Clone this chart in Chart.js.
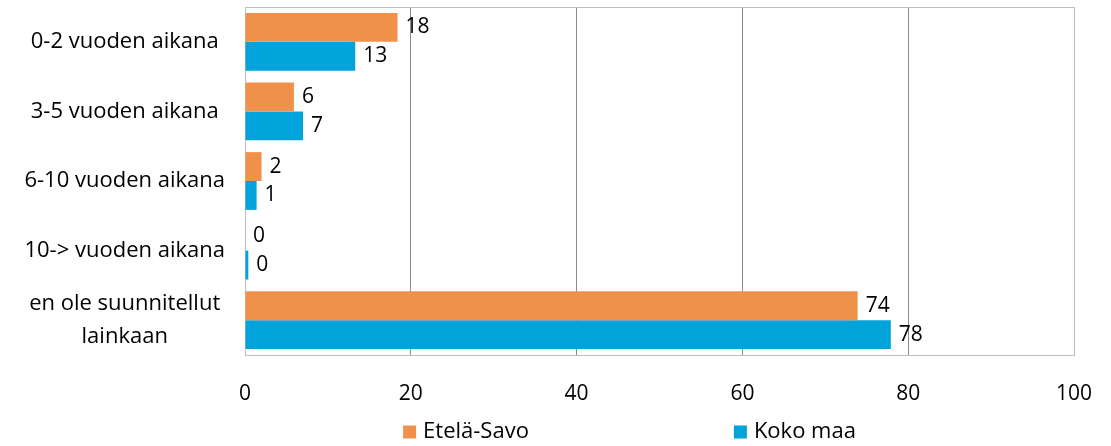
<!DOCTYPE html>
<html>
<head>
<meta charset="utf-8">
<script src="https://cdn.jsdelivr.net/npm/chart.js@4/dist/chart.umd.min.js"></script>
<style>
    body { margin: 0; background: #fff; }
    #wrap { width: 1111px; height: 446px; position: relative; }
</style>
</head>
<body>
<div id="wrap"><canvas id="chart"></canvas></div>
<script>
const categories = [
    '0-2 vuoden aikana',
    '3-5 vuoden aikana',
    '6-10 vuoden aikana',
    '10-> vuoden aikana',
    ['en ole suunnitellut', 'lainkaan']
];
const seriesNames = ['Etelä-Savo', 'Koko maa'];
const etelaSavo = [18.4, 5.9, 2.0, 0, 73.9];
const kokoMaa = [13.3, 7.0, 1.4, 0.4, 77.9];
const xTicks = [0, 20, 40, 60, 80, 100];

const fontFamily = '"Open Sans", "Liberation Sans", sans-serif';
const colors = ['#f0914b', '#00a3da'];

// value labels at the end of each bar
const valueLabels = {
    id: 'valueLabels',
    afterDatasetsDraw(chart) {
        const ctx = chart.ctx;
        ctx.save();
        ctx.font = '21px ' + fontFamily;
        ctx.fillStyle = '#000';
        ctx.textAlign = 'left';
        ctx.textBaseline = 'middle';
        chart.data.datasets.forEach((ds, i) => {
            chart.getDatasetMeta(i).data.forEach((bar, j) => {
                ctx.fillText(Math.round(ds.data[j]), bar.x + 8, bar.y);
            });
        });
        ctx.restore();
    }
};

// plot frame
const frame = {
    id: 'frame',
    beforeDatasetsDraw(chart) {
        const a = chart.chartArea;
        const ctx = chart.ctx;
        ctx.save();
        ctx.strokeStyle = '#bfbfbf';
        ctx.lineWidth = 1;
        ctx.strokeRect(a.left + 0.5, a.top + 0.5, a.right - a.left, a.bottom - a.top);
        ctx.restore();
    }
};

// legend under the plot, spread wide like the original
const wideLegend = {
    id: 'wideLegend',
    afterDraw(chart) {
        const a = chart.chartArea;
        const ctx = chart.ctx;
        const box = 13, gap = 7, spacing = 205;
        ctx.save();
        ctx.font = '22px ' + fontFamily;
        ctx.textBaseline = 'middle';
        ctx.textAlign = 'left';
        const widths = chart.data.datasets.map(ds => box + gap + ctx.measureText(ds.label).width);
        const total = widths[0] + spacing + widths[1];
        let x = (a.left + a.right) / 2 - 30 - total / 2;
        const y = 432;
        chart.data.datasets.forEach((ds, i) => {
            ctx.fillStyle = ds.backgroundColor;
            ctx.fillRect(x, y - box / 2, box, box);
            ctx.fillStyle = '#000';
            ctx.fillText(ds.label, x + box + gap, y);
            x += widths[i] + spacing;
        });
        ctx.restore();
    }
};

new Chart(document.getElementById('chart'), {
    type: 'bar',
    data: {
        labels: categories,
        datasets: [
            { label: seriesNames[0], data: etelaSavo, backgroundColor: colors[0] },
            { label: seriesNames[1], data: kokoMaa, backgroundColor: colors[1] }
        ]
    },
    options: {
        indexAxis: 'y',
        responsive: true,
        maintainAspectRatio: false,
        animation: false,
        layout: { padding: { top: 7, right: 37, bottom: 0, left: 0 } },
        datasets: {
            bar: { categoryPercentage: 0.83, barPercentage: 1.0 }
        },
        scales: {
            x: {
                min: 0,
                max: 100,
                afterBuildTicks(axis) {
                    axis.ticks = xTicks.map(v => ({ value: v }));
                },
                grid: {
                    color: ctx => (ctx.tick && (ctx.tick.value === 0 || ctx.tick.value === 100)) ? '#bfbfbf' : '#8c8c8c',
                    drawTicks: false
                },
                border: { color: '#bfbfbf' },
                ticks: {
                    color: '#000',
                    padding: 26,
                    font: { family: fontFamily, size: 21 }
                },
                afterFit(axis) {
                    axis.height = 91;
                    axis.paddingLeft = 0;
                    axis.paddingRight = 0;
                }
            },
            y: {
                grid: { display: false, drawTicks: false },
                border: { color: '#bfbfbf' },
                ticks: {
                    color: '#000',
                    padding: 20,
                    autoSkip: false,
                    crossAlign: 'center',
                    font: { family: fontFamily, size: 22, lineHeight: 1.5 }
                },
                afterFit(axis) {
                    axis.width = 245;
                    axis.paddingTop = 0;
                    axis.paddingBottom = 0;
                }
            }
        },
        plugins: {
            legend: { display: false },
            tooltip: { enabled: false }
        }
    },
    plugins: [frame, valueLabels, wideLegend]
});
</script>
</body>
</html>
